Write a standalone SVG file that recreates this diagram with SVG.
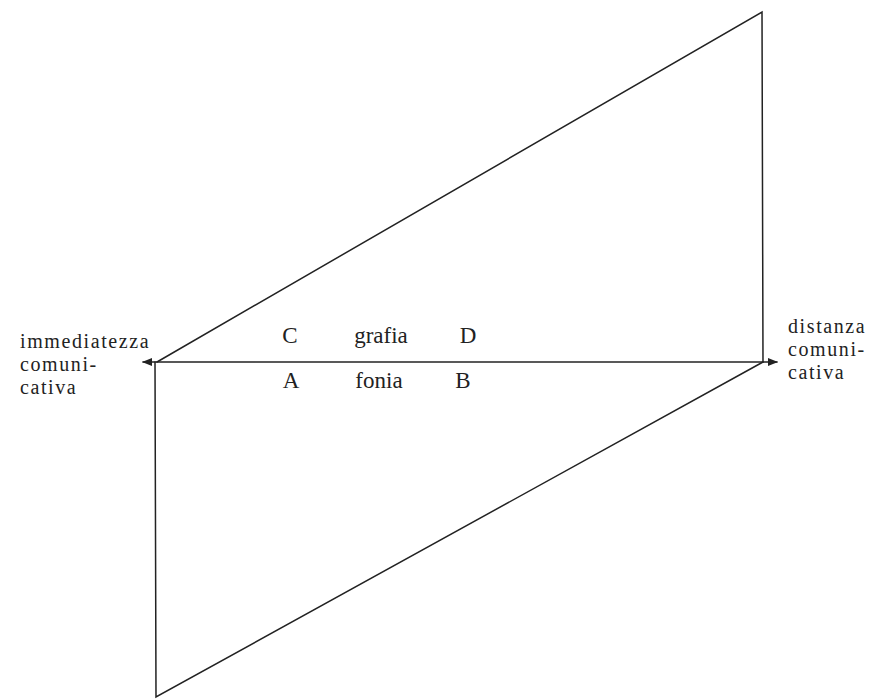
<svg xmlns="http://www.w3.org/2000/svg" width="874" height="699" viewBox="0 0 874 699">
<style>
.ln{stroke:#222;stroke-width:1.5;fill:none;stroke-linecap:round}
.t{font-family:"Liberation Serif","Times New Roman",serif;font-size:23px;fill:#222}
.s{font-size:20px;letter-spacing:1.6px}
.m{text-anchor:middle}
</style>
<defs>
<marker id="ah" viewBox="0 0 10 8" refX="9" refY="4" markerWidth="10" markerHeight="8" markerUnits="userSpaceOnUse" orient="auto-start-reverse">
<path d="M0,0 L10,4 L0,8 Z" fill="#222"/>
</marker>
</defs>
<rect width="874" height="699" fill="#fff"/>
<g id="connectors">
<line class="ln" x1="143" y1="362" x2="777" y2="362" marker-start="url(#ah)" marker-end="url(#ah)"/>
<polyline class="ln" points="157,362 762,12 763,362"/>
<polyline class="ln" points="155,362 156,697 763,362"/>
</g>
<g id="left-label">
<text class="t s" x="20" y="348">immediatezza</text>
<text class="t s" x="20" y="371">comuni-</text>
<text class="t s" x="20" y="394">cativa</text>
</g>
<g id="right-label">
<text class="t s" x="788" y="333">distanza</text>
<text class="t s" x="788" y="356">comuni-</text>
<text class="t s" x="788" y="379">cativa</text>
</g>
<g id="upper">
<text class="t m" x="290" y="343">C</text>
<text class="t m" x="381" y="343">grafia</text>
<text class="t m" x="468" y="343">D</text>
</g>
<g id="lower">
<text class="t m" x="291" y="388">A</text>
<text class="t m" x="379" y="388">fonia</text>
<text class="t m" x="463" y="388">B</text>
</g>
</svg>
